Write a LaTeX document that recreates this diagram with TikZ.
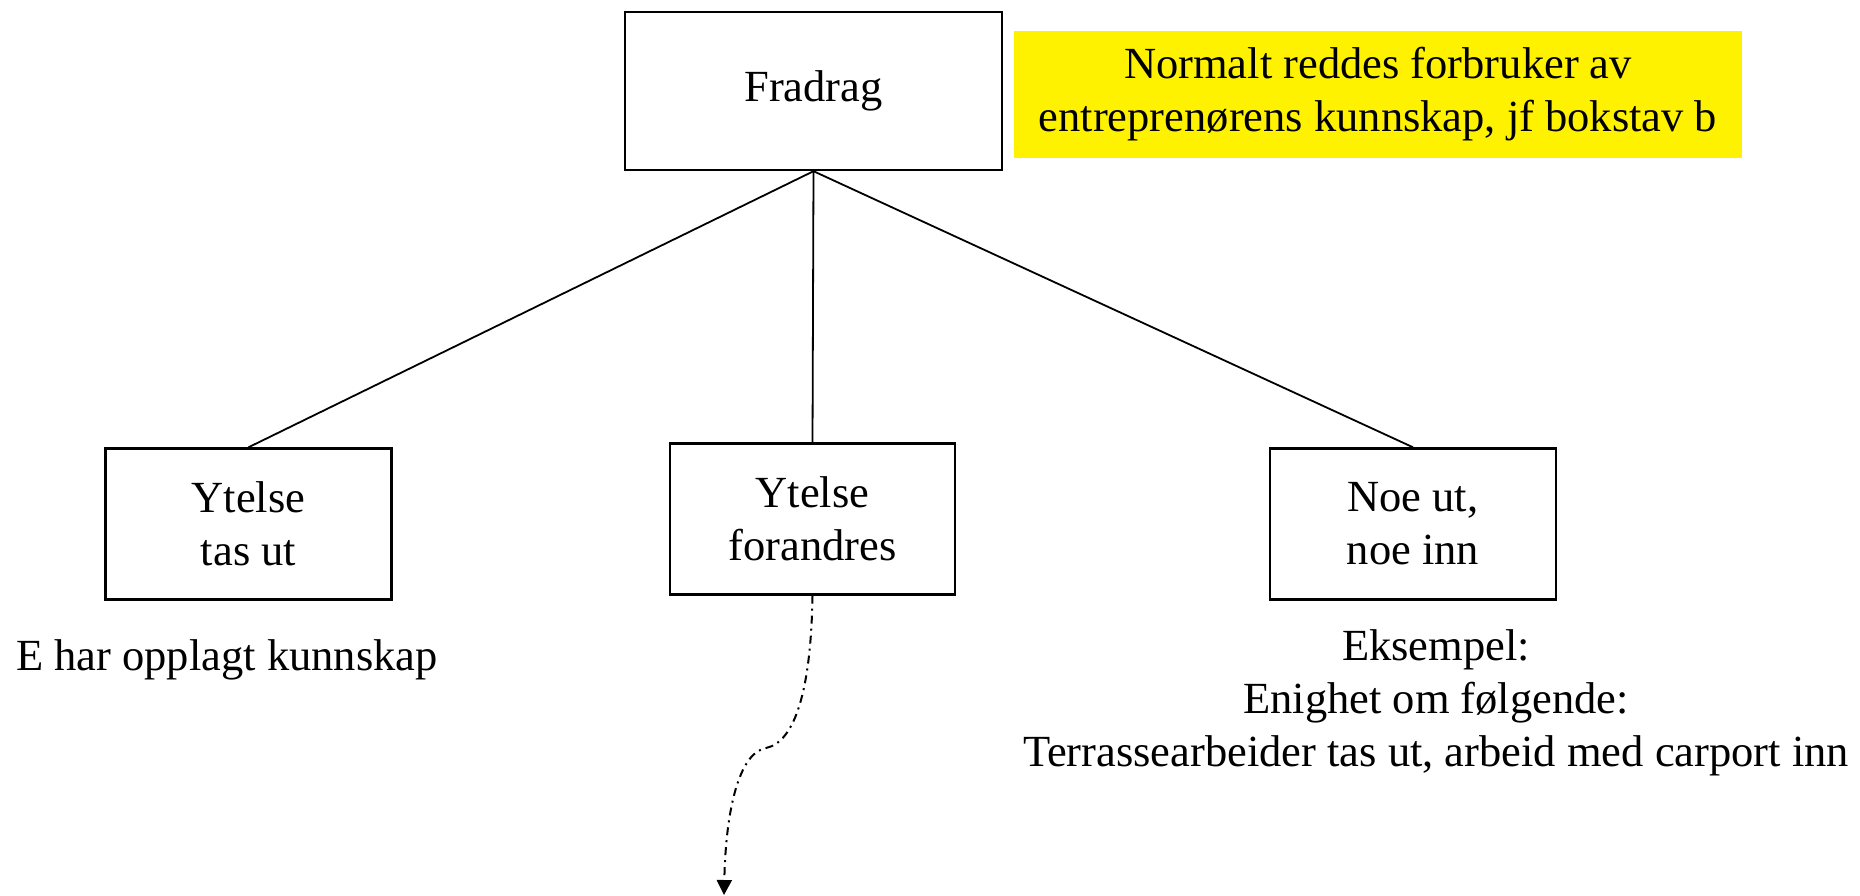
\documentclass[tikz,border=0pt]{standalone}
\usepackage{fontspec}
\setmainfont{Liberation Serif}
\usetikzlibrary{arrows.meta}
\begin{document}
\begin{tikzpicture}[x=1pt,y=-1pt,
  txt/.style={font=\fontsize{44.5}{53}\selectfont, align=center, inner sep=0pt},
  box/.style={txt, draw=black, line width=2.4pt, fill=white},
  link/.style={draw=black, line width=1.8pt},
  note/.style={txt, fill=yellow},
  flow/.style={draw=black, line width=2pt,
    dash pattern=on 8pt off 5pt on 2pt off 5pt, -{Triangle[width=15pt,length=15pt]}}]
  \useasboundingbox (0,0) rectangle (1860,896);

  % top node and note
  \node[box, minimum width=377pt, minimum height=158pt] (top) at (813.5,91) {Fradrag};
  \node[note, minimum width=728pt, minimum height=127pt] (note) at (1378,94.3)
    {Normalt reddes forbruker av\\entreprenørens kunnskap, jf bokstav b};

  % three cases
  \node[box, minimum width=286pt, minimum height=151pt] (out) at (248.5,524) {Ytelse\\tas ut};
  \node[box, minimum width=285pt, minimum height=151pt] (chg) at (812.5,519) {Ytelse\\forandres};
  \node[box, minimum width=286pt, minimum height=151pt] (mix) at (1413,524) {Noe ut,\\noe inn};

  % branches
  \draw[link] (top.south) -- (out.north);
  \draw[link] (top.south) -- (chg.north);
  \draw[link] (top.south) -- (mix.north);

  % explanations
  \node[txt, anchor=west] (outtxt) at (16,659.5) {E har opplagt kunnskap};
  \node[txt] (mixtxt) at (1436,703)
    {Eksempel:\\Enighet om følgende:\\Terrassearbeider tas ut, arbeid med carport inn};

  % open continuation below the middle case
  \coordinate (end) at (724,895);
  \draw[flow] (chg.south) .. controls (811,690) and (795,742) .. (766,748)
    .. controls (742,752) and (726,800) .. (end);
\end{tikzpicture}
\end{document}
